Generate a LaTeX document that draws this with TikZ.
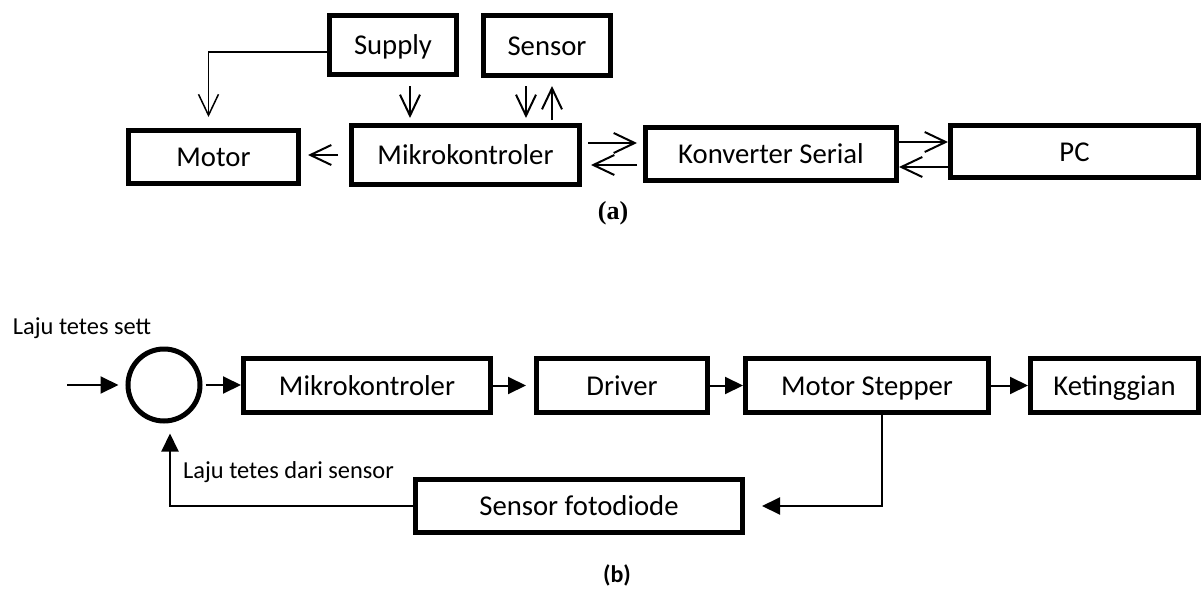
\documentclass[tikz,border=0pt]{standalone}
\usepackage{fontspec}
\setmainfont{Carlito}
\newfontfamily\timesbf{Liberation Serif}
\usetikzlibrary{arrows.meta}

\tikzset{
  blok/.style={draw, line width=5pt, inner sep=0pt, text height=25pt, text depth=6pt,
    font=\fontsize{28.7}{34}\selectfont},
  kecil/.style={inner sep=0pt, font=\fontsize{24.4}{29}\selectfont},
  panah/.style={line width=2pt, -{Straight Barb[length=21pt,width=20pt]}},
  panahb/.style={line width=2pt, -{Triangle[length=18pt,width=17pt]}}
}

\begin{document}
\begin{tikzpicture}[x=1pt,y=-1pt]
      \useasboundingbox (0,0) rectangle (1203,589);
      % (a)
      \node[blok, minimum width=127pt, minimum height=59pt] (supply) at (393,45) {Supply};
      \node[blok, minimum width=127pt, minimum height=60pt] (sensor) at (547,45.5) {Sensor};
      \node[blok, minimum width=170pt, minimum height=53pt] (motor) at (213.5,157) {Motor};
      \node[blok, minimum width=228pt, minimum height=59pt] (mikro) at (465.5,155) {Mikrokontroler};
      \node[blok, minimum width=251pt, minimum height=53pt] (konv) at (771,154) {Konverter Serial};
      \node[blok, minimum width=248pt, minimum height=52pt] (pc) at (1074.5,151.5) {PC};

      \draw[panah, line width=1.5pt, shorten >=11pt] ([yshift=-7pt]supply.west) -| ([xshift=-5pt]motor.north);
      \draw[panah, shorten <=9pt, shorten >=5pt] ([xshift=17pt]supply.south) -- ([xshift=17pt]supply.south |- mikro.north);
      \draw[panah, shorten <=8pt, shorten >=5pt] ([xshift=-21pt]sensor.south) -- ([xshift=-21pt]sensor.south |- mikro.north);
      \draw[panah, shorten <=3pt, shorten >=8pt] ([xshift=5pt]sensor.south |- mikro.north) -- ([xshift=5pt]sensor.south);
      \draw[panah, shorten <=11pt, shorten >=7pt] (mikro.west) -- (mikro.west -| motor.east);
      \draw[panah, shorten <=6pt, shorten >=6pt] ([yshift=12pt]mikro.east) -- ([yshift=12pt]mikro.east -| konv.west);
      \draw[panah, shorten <=6pt, shorten >=9pt] ([yshift=-11pt]konv.west) -- ([yshift=-11pt]konv.west -| mikro.east);
      \draw[panah] ([yshift=12pt]konv.east) -- ([yshift=12pt]konv.east -| pc.west);
      \draw[panah] ([yshift=-13pt]konv.east -| pc.west) -- ([yshift=-13pt]konv.east);
      \node[font=\timesbf\bfseries\fontsize{26}{30}\selectfont] (capa) at (613,213) {(a)};

      % (b)
      \node[circle, draw, line width=5pt, minimum size=72pt, inner sep=0pt] (sum) at (164,385) {};
      \coordinate (masuk) at (67,385);
      \node[kecil] (setp) at (82,328) {Laju tetes sett};
      \node[blok, minimum width=247pt, minimum height=54pt] (mikrob) at (367,385.5) {Mikrokontroler};
      \node[blok, minimum width=171pt, minimum height=54pt] (driver) at (622,385.5) {Driver};
      \node[blok, minimum width=243pt, minimum height=54pt] (stepper) at (867,385.5) {Motor Stepper};
      \node[blok, minimum width=168pt, minimum height=54pt] (tinggi) at (1114.5,385.5) {Ketinggian};
      \node[blok, minimum width=327pt, minimum height=53pt] (fotod) at (579,506) {Sensor fotodiode};
      \node[kecil, anchor=west] (fbteks) at (183,472) {Laju tetes dari sensor};

      \draw[panahb, shorten >=7pt] (masuk) -- (sum.west);
      \draw[panahb, shorten <=3pt] (sum.east) -- (sum.east -| mikrob.west);
      \draw[panahb, shorten >=8pt] (mikrob) -- (driver);
      \draw[panahb] (driver) -- (stepper);
      \draw[panahb] (stepper) -- (tinggi);
      \draw[panahb, shorten >=17pt] ([xshift=15pt]stepper.south) |- (fotod.east);
      \draw[panahb, shorten >=10pt] (fotod.west) -| ([xshift=6pt]sum.south);
      \node[font=\bfseries\fontsize{24}{28}\selectfont] (capb) at (617,575) {(b)};
\end{tikzpicture}
\end{document}
